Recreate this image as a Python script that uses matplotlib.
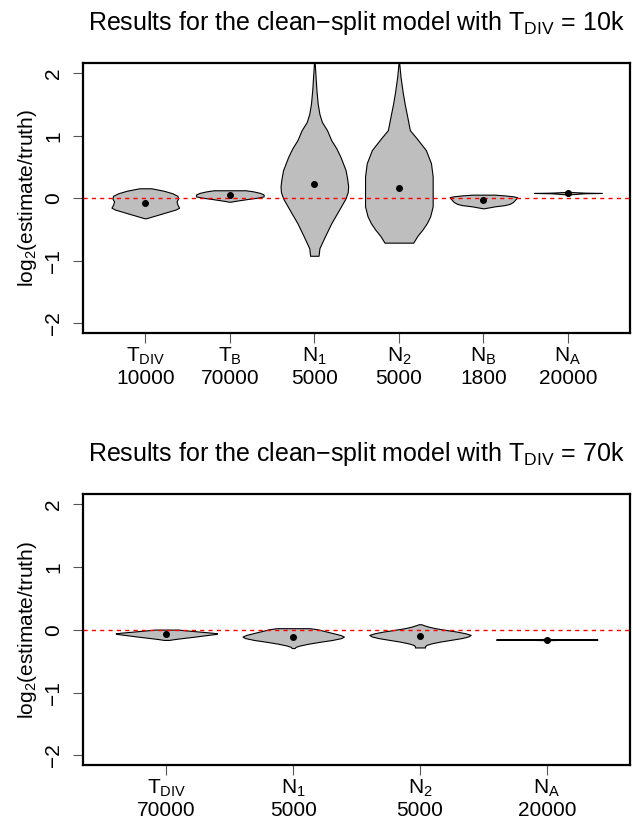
import numpy as np
import matplotlib
matplotlib.use("Agg")
import matplotlib.pyplot as plt

plt.rcParams['font.family'] = ['Liberation Sans', 'DejaVu Sans']
plt.rcParams['mathtext.fontset'] = 'custom'
plt.rcParams['mathtext.rm'] = 'Liberation Sans'
plt.rcParams['mathtext.it'] = 'Liberation Sans:italic'
plt.rcParams['mathtext.bf'] = 'Liberation Sans:bold'

# ---- panel 1: clean-split, T_DIV = 10k
names_10k = ["T_{DIV}", "T_B", "N_1", "N_2", "N_B", "N_A"]
truth_10k = [10000, 70000, 5000, 5000, 1800, 20000]
median_10k = [-0.074, 0.053, 0.223, 0.165, -0.032, 0.085]
# violin outlines: levels (log2 ratio) and half widths
vy_10k = [
    [0.16, 0.12, 0.08, 0.04, 0.0, -0.05, -0.10, -0.15, -0.18, -0.22, -0.26, -0.30, -0.32],
    [0.128, 0.11, 0.085, 0.06, 0.03, 0.01, -0.01, -0.03, -0.045, -0.055],
    [2.25, 2.15, 1.94, 1.73, 1.51, 1.35, 1.22, 1.09, 0.93, 0.8, 0.66, 0.45, 0.3, 0.19, 0.1, 0.0,
     -0.19, -0.4, -0.61, -0.8, -0.92],
    [2.25, 2.15, 1.94, 1.7, 1.5, 1.3, 1.09, 0.96, 0.77, 0.56, 0.35, 0.1, -0.13, -0.29, -0.4,
     -0.5, -0.6, -0.71],
    [0.058, 0.045, 0.03, 0.016, 0.0, -0.03, -0.06, -0.09, -0.11, -0.13, -0.15, -0.16],
    [0.12, 0.10, 0.09, 0.085, 0.08, 0.065, 0.045],
]
vw_10k = [
    [0.07, 0.22, 0.32, 0.38, 0.39, 0.37, 0.38, 0.40, 0.36, 0.26, 0.16, 0.06, 0.01],
    [0.19, 0.28, 0.36, 0.40, 0.40, 0.33, 0.22, 0.12, 0.05, 0.01],
    [0.0, 0.005, 0.015, 0.025, 0.04, 0.06, 0.09, 0.15, 0.20, 0.26, 0.31, 0.37, 0.39, 0.40, 0.395,
     0.37, 0.29, 0.20, 0.125, 0.06, 0.05],
    [0.0, 0.005, 0.02, 0.045, 0.07, 0.10, 0.13, 0.21, 0.32, 0.38, 0.40, 0.40, 0.40, 0.37, 0.33,
     0.28, 0.22, 0.17],
    [0.13, 0.26, 0.36, 0.40, 0.39, 0.37, 0.35, 0.31, 0.25, 0.13, 0.05, 0.01],
    [0.005, 0.04, 0.20, 0.40, 0.20, 0.04, 0.005],
]

# ---- panel 2: clean-split, T_DIV = 70k
names_70k = ["T_{DIV}", "N_1", "N_2", "N_A"]
truth_70k = [70000, 5000, 5000, 20000]
median_70k = [-0.064, -0.111, -0.095, -0.154]
vy_70k = [
    [0.005, -0.005, -0.027, -0.045, -0.055, -0.065, -0.085, -0.106, -0.125, -0.145, -0.16],
    [0.027, 0.01, -0.02, -0.05, -0.08, -0.106, -0.13, -0.16, -0.19, -0.22, -0.25, -0.27, -0.29],
    [0.09, 0.075, 0.05, 0.027, 0.0, -0.027, -0.055, -0.08, -0.105, -0.13, -0.16, -0.186, -0.215,
     -0.24, -0.26, -0.28],
    [-0.135, -0.145, -0.15, -0.154, -0.158, -0.163, -0.173],
]
vw_70k = [
    [0.09, 0.14, 0.26, 0.36, 0.40, 0.39, 0.31, 0.23, 0.15, 0.07, 0.02],
    [0.13, 0.19, 0.25, 0.31, 0.37, 0.40, 0.38, 0.31, 0.21, 0.12, 0.05, 0.02, 0.01],
    [0.01, 0.03, 0.07, 0.12, 0.20, 0.29, 0.36, 0.40, 0.38, 0.33, 0.24, 0.16, 0.09, 0.05, 0.04, 0.04],
    [0.005, 0.03, 0.15, 0.40, 0.15, 0.03, 0.005],
]


def draw_panel(ax, names, truth, medians, vys, vws, title):
    n = len(names)
    pos = np.arange(1, n + 1)
    for p, y, w in zip(pos, vys, vws):
        y = np.array(y)
        w = np.array(w)
        ax.fill_betweenx(y, p - w, p + w, facecolor='#bebebe', edgecolor='black', lw=0.8, zorder=2)
    ax.axhline(0, color='red', lw=1.0, ls=(0, (3, 3)), zorder=3)
    ax.plot(pos, medians, 'o', color='black', ms=4, zorder=4)

    ax.set_xlim(0.5 - 0.04 * n, n + 0.5 + 0.04 * n)
    ax.set_ylim(-2.16, 2.16)
    ax.set_xticks(pos)
    ax.set_xticklabels([r"$\mathrm{%s}$" % s + "\n" + str(t) for s, t in zip(names, truth)],
                       fontsize=15, linespacing=1.1)
    ax.set_yticks([-2, -1, 0, 1, 2])
    ax.set_yticklabels(["\u22122", "\u22121", "0", "1", "2"], fontsize=15, rotation=90, va='center')
    ax.tick_params(axis='both', length=7, width=0.8, color='#555555')
    ax.tick_params(axis='x', pad=2)
    ax.tick_params(axis='y', pad=7)
    for s in ax.spines.values():
        s.set_linewidth(1.6)
    ax.set_ylabel(r"$\mathrm{log_2(estimate/truth)}$", fontsize=15, labelpad=4)
    ax.set_title(title, fontsize=18, pad=24)


fig = plt.figure(figsize=(6.33, 8.27), dpi=100)
ax1 = fig.add_axes([0.1307, 0.597, 0.8653, 0.3265])
ax2 = fig.add_axes([0.1307, 0.0744, 0.8653, 0.3279])

draw_panel(ax1, names_10k, truth_10k, median_10k, vy_10k, vw_10k,
           r"Results for the clean$-$split model with $\mathrm{T_{DIV}}$ = 10k")
draw_panel(ax2, names_70k, truth_70k, median_70k, vy_70k, vw_70k,
           r"Results for the clean$-$split model with $\mathrm{T_{DIV}}$ = 70k")

fig.savefig("out.png", dpi=100)
